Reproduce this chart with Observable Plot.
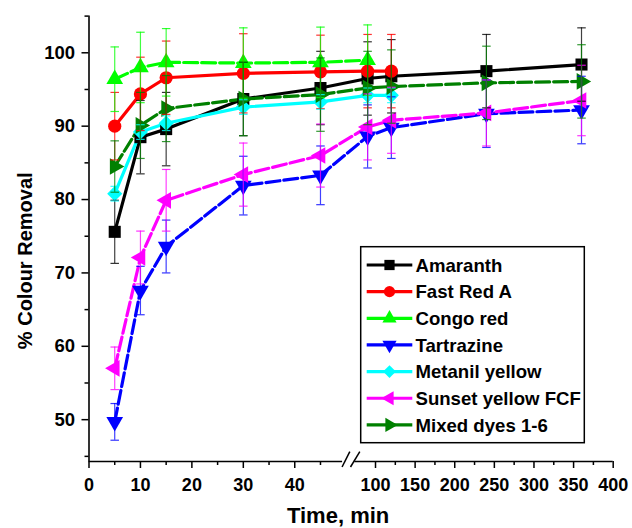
<!DOCTYPE html>
<html><head><meta charset="utf-8">
<script src="https://cdn.jsdelivr.net/npm/d3@7"></script>
<script src="https://cdn.jsdelivr.net/npm/@observablehq/plot@0.6"></script>
<style>body{margin:0;background:#fff}#chart{position:relative;width:632px;height:528px}</style>
</head><body><div id="chart"></div>
<script>
// ---- data ----
const times = [5, 10, 15, 30, 45, 90, 120, 240, 360];
const seriesNames = ["Amaranth", "Fast Red A", "Congo red", "Tartrazine", "Metanil yellow", "Sunset yellow FCF", "Mixed dyes 1-6"];
const amaranth      = [75.6, 88.5, 89.6, 93.7, 95.2, 96.5, 96.8, 97.5, 98.4];
const amaranthErr   = [4.3, 5.0, 5.0, 5.0, 5.0, 5.0, 5.0, 5.0, 5.0];
const fastRed       = [90.0, 94.4, 96.6, 97.2, 97.4, 97.5, 97.5];
const fastRedErr    = [4.6, 5.0, 5.0, 5.4, 5.0, 5.0, 5.0];
const congoRed      = [96.4, 98.0, 98.7, 98.6, 98.7, 99.0];
const congoRedErr   = [4.4, 4.8, 4.6, 4.8, 4.8, 4.8];
const tartrazine    = [49.7, 67.6, 73.6, 81.9, 83.3, 88.6, 89.8, 91.7, 92.2];
const tartrazineErr = [2.5, 3.3, 3.6, 4.0, 4.0, 4.3, 4.2, 4.6, 4.6];
const metanil       = [80.8, 89.2, 90.4, 92.6, 93.3, 94.2, 94.2];
const metanilErr    = [1.0, 1.0, 1.0, 1.0, 1.0, 1.0, 1.0];
const sunset        = [57.0, 72.1, 79.9, 83.4, 86.0, 89.9, 90.8, 91.8, 93.5];
const sunsetErr     = [2.9, 3.6, 4.2, 4.3, 4.3, 4.5, 4.5, 4.5, 4.8];
const mixed         = [84.5, 90.1, 92.4, 93.7, 94.3, 95.2, 95.4, 95.9, 96.1];
const mixedErr      = [3.5, 4.5, 4.5, 5.0, 5.0, 5.0, 5.0, 5.0, 5.0];
const seriesValues = [amaranth, fastRed, congoRed, tartrazine, metanil, sunset, mixed];
const seriesErrors = [amaranthErr, fastRedErr, congoRedErr, tartrazineErr, metanilErr, sunsetErr, mixedErr];

const xTicksMajor = [0, 10, 20, 30, 40, 100, 150, 200, 250, 300, 350, 400];
const xTicksMinor = [5, 15, 25, 35, 45, 125, 175, 225, 275, 325, 375];
const yTicksMajor = [50, 60, 70, 80, 90, 100];
const yTicksMinor = [45, 55, 65, 75, 85, 95, 105];
const xAxisSegments = [{x1: 0, x2: 49.3}, {x1: 72.6, x2: 400}];
const breakMarks = [{x1: 49.2, x2: 59.5}, {x1: 61.3, x2: 80.2}];

// ---- styles ----
const styles = [
  {color: "#000000", symbol: "square",   rotate: 0,   r: 6.8, dash: null},
  {color: "#ff0000", symbol: "circle",   rotate: 0,   r: 6.6, dash: null},
  {color: "#00ff00", symbol: "triangle", rotate: 0,   r: 6.2, dash: "14,4"},
  {color: "#0000ff", symbol: "triangle", rotate: 180, r: 6.2, dash: "14,4"},
  {color: "#00ffff", symbol: "diamond2", rotate: 0,   r: 6.8, dash: null},
  {color: "#ff00ff", symbol: "triangle", rotate: -90, r: 6.2, dash: "14,4"},
  {color: "#008000", symbol: "triangle", rotate: 90,  r: 6.2, dash: "14,4"}
];

const rows = [];
seriesNames.forEach((name, i) => {
  seriesValues[i].forEach((v, j) => rows.push({series: name, i, t: times[j], v, e: seriesErrors[i][j]}));
});

const yDomain = [44.3, 105];
const cap = {draw(ctx, size) { const w = Math.sqrt(size); ctx.moveTo(-w, 0); ctx.lineTo(w, 0); }};
const font = "Liberation Sans, Arial, sans-serif";

const marks = [];
// axis lines
marks.push(Plot.ruleX([yDomain], {x: () => 0, y1: d => d[0], y2: d => d[1], stroke: "black", strokeWidth: 1.6}));
marks.push(Plot.ruleY(xAxisSegments, {y: () => yDomain[0], x1: "x1", x2: "x2", stroke: "black", strokeWidth: 1.6}));
// break slashes
marks.push(Plot.link(breakMarks, {x1: "x1", x2: "x2", y1: () => yDomain[0] - 0.75, y2: () => yDomain[0] + 1.35, stroke: "black", strokeWidth: 1.5}));
// axes
marks.push(Plot.axisX(xTicksMajor, {tickSize: 7, tickPadding: 10, strokeWidth: 1.5, fontSize: 18, fontWeight: "bold", fontFamily: font, fill: "black", label: null}));
marks.push(Plot.axisX(xTicksMinor, {tickSize: 4, strokeWidth: 1.5, tickFormat: () => "", label: null}));
marks.push(Plot.axisY(yTicksMajor, {tickSize: 7, tickPadding: 7, strokeWidth: 1.5, fontSize: 18.5, fontWeight: "bold", fontFamily: font, fill: "black", label: null}));
marks.push(Plot.axisY(yTicksMinor, {tickSize: 4, strokeWidth: 1.5, tickFormat: () => "", label: null}));
// lines
seriesNames.forEach((name, i) => {
  const st = styles[i];
  marks.push(Plot.line(rows.filter(d => d.i === i), {x: "t", y: "v", stroke: st.color, strokeWidth: 3.2, strokeDasharray: st.dash, strokeLinejoin: "round"}));
});
// markers
seriesNames.forEach((name, i) => {
  const st = styles[i];
  marks.push(Plot.dot(rows.filter(d => d.i === i), {x: "t", y: "v", symbol: st.symbol, rotate: st.rotate, r: st.r, fill: st.color, stroke: "none"}));
});
// error bars
seriesNames.forEach((name, i) => {
  const st = styles[i];
  const data = rows.filter(d => d.i === i);
  marks.push(Plot.ruleX(data, {x: "t", y1: d => d.v - d.e, y2: d => d.v + d.e, stroke: st.color, strokeWidth: 1.2, strokeOpacity: 0.75}));
  marks.push(Plot.dot(data, {x: "t", y: d => d.v + d.e, symbol: cap, r: 2.4, stroke: st.color, strokeWidth: 1.2, strokeOpacity: 0.8}));
  marks.push(Plot.dot(data, {x: "t", y: d => d.v - d.e, symbol: cap, r: 2.4, stroke: st.color, strokeWidth: 1.2, strokeOpacity: 0.8}));
});
// axis titles
marks.push(Plot.text(["% Colour Removal"], {frameAnchor: "left", textAnchor: "middle", text: d => d, rotate: -90, dx: -63, dy: 22, fontSize: 20, fontWeight: "bold", fontFamily: font, fill: "black"}));
marks.push(Plot.text(["Time, min"], {frameAnchor: "bottom", text: d => d, dy: 61, dx: -13, fontSize: 22, fontWeight: "bold", fontFamily: font, fill: "black"}));

const chart = Plot.plot({
  width: 632, height: 528,
  marginLeft: 88.5, marginRight: 19.3, marginTop: 15.6, marginBottom: 67,
  style: {fontFamily: font, fontWeight: "bold", fontSize: "18px", color: "black", background: "white", overflow: "visible"},
  x: {type: "linear", domain: [0, 50, 75, 400], range: [88.5, 345.7, 355.2, 612.7], label: null},
  y: {domain: yDomain, label: null},
  marks
});
document.getElementById("chart").appendChild(chart);

// ---- legend (drawn inside the svg) ----
const svg = d3.select(chart);
const lg = svg.append("g").attr("font-family", font).attr("font-weight", "bold").attr("font-size", 18.6).attr("text-anchor", "start");
lg.append("rect").attr("x", 360.7).attr("y", 246.7).attr("width", 223.6).attr("height", 196).attr("fill", "white").attr("stroke", "black").attr("stroke-width", 1.5);
const symMap = {square: d3.symbolSquare, circle: d3.symbolCircle, triangle: d3.symbolTriangle, diamond2: d3.symbolDiamond2};
seriesNames.forEach((name, i) => {
  const st = styles[i];
  const y = 265 + i * 26.65;
  const g = lg.append("g").attr("transform", `translate(0,${y})`);
  g.append("line").attr("x1", 366.7).attr("x2", 412.3).attr("y1", 0).attr("y2", 0).attr("stroke", st.color).attr("stroke-width", 3.2);
  const s = st.r * 0.85;
  g.append("path").attr("d", d3.symbol(symMap[st.symbol], s * s * Math.PI)())
    .attr("transform", `translate(389.5,0) rotate(${st.rotate})`).attr("fill", st.color);
  g.append("text").attr("x", 415.5).attr("y", 0).attr("dy", "0.36em").attr("text-anchor", "start").attr("fill", "black").text(name);
});
</script>
</body></html>
